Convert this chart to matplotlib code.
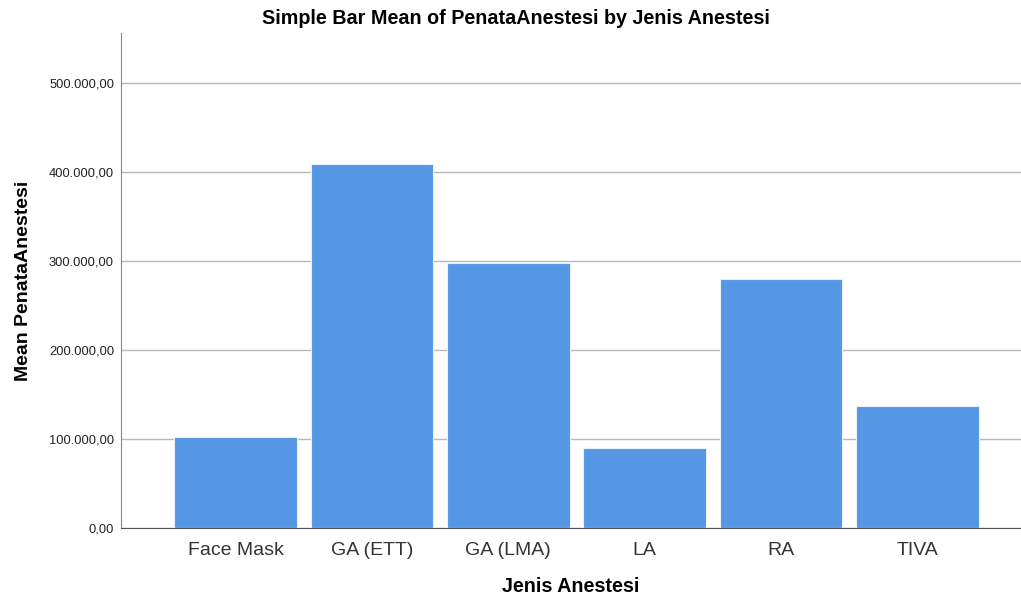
import matplotlib.pyplot as plt
from matplotlib.ticker import FuncFormatter

plt.rcParams['font.family'] = ['Liberation Sans', 'DejaVu Sans']

categories = ["Face Mask", "GA (ETT)", "GA (LMA)", "LA", "RA", "TIVA"]
means = [102200, 409000, 297800, 89900, 279800, 137100]
yticks = [0, 100000, 200000, 300000, 400000, 500000]


def fmt(v, pos):
    s = f"{v:,.2f}"
    return s.replace(",", "X").replace(".", ",").replace("X", ".")


fig = plt.figure(figsize=(10.21, 5.97), dpi=100)
ax = fig.add_axes([121 / 1021, 69 / 597, 900 / 1021, 495 / 597])

x = list(range(len(categories)))
ax.bar(x, means, width=0.9, color="#5596E5", edgecolor="#e8f0fb", linewidth=0.8, zorder=3)

ax.set_xlim(-0.84, 5.76)
ax.set_ylim(0, 556000)
ax.set_yticks(yticks)
ax.yaxis.set_major_formatter(FuncFormatter(fmt))
ax.set_xticks(x)
ax.set_xticklabels(categories, fontsize=14, color="#333333")
ax.tick_params(axis="y", length=0, labelsize=9.3, pad=5, colors="#222222")
ax.tick_params(axis="x", length=0, pad=10)
ax.grid(axis="y", color="#b8b8b8", linewidth=1, zorder=0)

for s in ["top", "right"]:
    ax.spines[s].set_visible(False)
ax.spines["left"].set_color("#888888")
ax.spines["bottom"].set_color("#555555")

ax.set_xlabel("Jenis Anestesi", fontsize=14.2, fontweight="bold", labelpad=13)
ax.set_ylabel("Mean PenataAnestesi", fontsize=14, fontweight="bold", labelpad=12)
fig.text(0.505, 0.969, "Simple Bar Mean of PenataAnestesi by Jenis Anestesi",
         ha="center", va="center", fontsize=14.2, fontweight="bold")

fig.savefig("out.png", dpi=100)
